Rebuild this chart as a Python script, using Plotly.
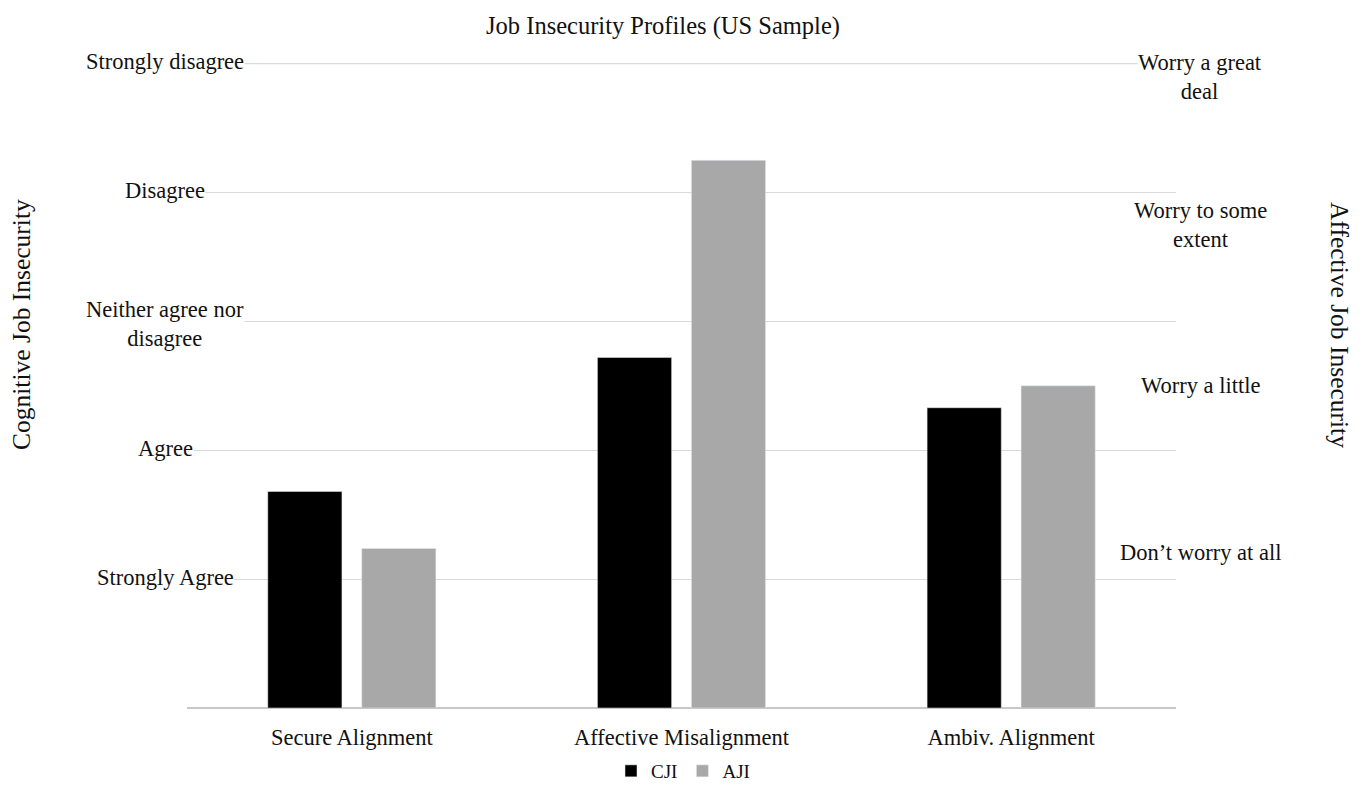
import plotly.graph_objects as go

# ---- data ----
categories = ["Secure Alignment", "Affective Misalignment", "Ambiv. Alignment"]
cji_values = [1.68, 2.72, 2.33]   # left axis (1 = Strongly Agree ... 5 = Strongly disagree)
aji_values = [0.99, 3.40, 2.00]   # right axis (1 = Don't worry at all ... 4 = Worry a great deal)
cji_tick_vals = [1, 2, 3, 4, 5]
cji_tick_text = ["Strongly Agree", "Agree", "Neither agree nor<br>disagree", "Disagree", "Strongly disagree"]
aji_tick_vals = [1, 2, 3, 4]
aji_tick_text = ["Don\u2019t worry at all", "Worry a little", "Worry to some<br>extent", "Worry a great<br>deal"]

FONT = "Liberation Serif, Times New Roman, serif"
TXT = "#111111"
GRID = "#D9D9D9"
OFF = 8  # page body margin
W, H = 1369 - 2 * OFF, 791 - 2 * OFF
# plot area in page pixels: x 187..1176, y 63..708
L = 187 - OFF
T = 63 - OFF
R = W - (1176 - OFF)
B = H - (708 - OFF)
pw, ph = W - L - R, H - T - B

def px_x(x):
    return (x - OFF - L) / pw

def px_y(y):
    return (H - B - (y - OFF)) / ph

fig = go.Figure()
fig.add_trace(go.Bar(
    x=categories, y=cji_values, name="CJI", marker_color="#000000",
    offset=-0.255, width=0.225, yaxis="y"))
fig.add_trace(go.Bar(
    x=categories, y=aji_values, name="AJI", marker_color="#A8A8A8",
    offset=0.03, width=0.225, yaxis="y2"))

annotations = []
for v, t in zip(cji_tick_vals, cji_tick_text):
    annotations.append(dict(x=px_x(165), y=v, xref="paper", yref="y", text=t,
                            showarrow=False, xanchor="center", yanchor="middle",
                            align="center", yshift=2 if "<br>" not in t else -3,
                            bgcolor="white", borderpad=0,
                            font=dict(family=FONT, size=22.5, color=TXT)))
right_shift = {1: -6, 2: 0, 3: 0, 4: -13}
for v, t in zip(aji_tick_vals, aji_tick_text):
    annotations.append(dict(x=px_x(1200), y=v, xref="paper", yref="y2", text=t,
                            showarrow=False, xanchor="center", yanchor="middle",
                            align="center", yshift=right_shift[v],
                            bgcolor="white", borderpad=0,
                            font=dict(family=FONT, size=22.5, color=TXT)))
annotations.append(dict(x=px_x(21), y=px_y(325), xref="paper", yref="paper",
                        text="Cognitive Job Insecurity", textangle=-90, showarrow=False,
                        xanchor="center", yanchor="middle",
                        font=dict(family=FONT, size=25.5, color=TXT)))
annotations.append(dict(x=px_x(1340), y=px_y(325), xref="paper", yref="paper",
                        text="Affective Job Insecurity", textangle=90, showarrow=False,
                        xanchor="center", yanchor="middle",
                        font=dict(family=FONT, size=25.5, color=TXT)))

fig.update_layout(
    width=W, height=H,
    margin=dict(l=L, r=R, t=T, b=B, autoexpand=False),
    paper_bgcolor="white", plot_bgcolor="white",
    title=dict(text="Job Insecurity Profiles (US Sample)", x=(663 - OFF) / W, xref="container",
               y=1 - (25 - OFF) / H, yref="container", xanchor="center", yanchor="middle",
               font=dict(family=FONT, size=24.5, color=TXT)),
    font=dict(family=FONT, color=TXT),
    barmode="group",
    xaxis=dict(showgrid=False, showline=False, ticks="", zeroline=False,
               tickfont=dict(family=FONT, size=22.5, color=TXT), ticklabelstandoff=13),
    yaxis=dict(range=[0, 5.005], tickvals=[0] + cji_tick_vals, showticklabels=False,
               showgrid=True, gridcolor=GRID, gridwidth=1.3,
               zeroline=True, zerolinecolor="#C8C8C8", zerolinewidth=1.5, showline=False),
    yaxis2=dict(range=[0, 4.004], overlaying="y", side="right", showticklabels=False,
                showgrid=False, zeroline=False, showline=False),
    legend=dict(orientation="h", x=px_x(683), xanchor="center", y=px_y(771), yanchor="middle",
                font=dict(family=FONT, size=19, color=TXT), itemwidth=30,
                traceorder="normal", borderwidth=0),
    shapes=[dict(type="line", xref="paper", x0=0, x1=1, yref="y", y0=cji_tick_vals[-1],
                 y1=cji_tick_vals[-1], line=dict(color=GRID, width=1.3), layer="below")],
    annotations=annotations,
)

fig.write_html("out.html")
